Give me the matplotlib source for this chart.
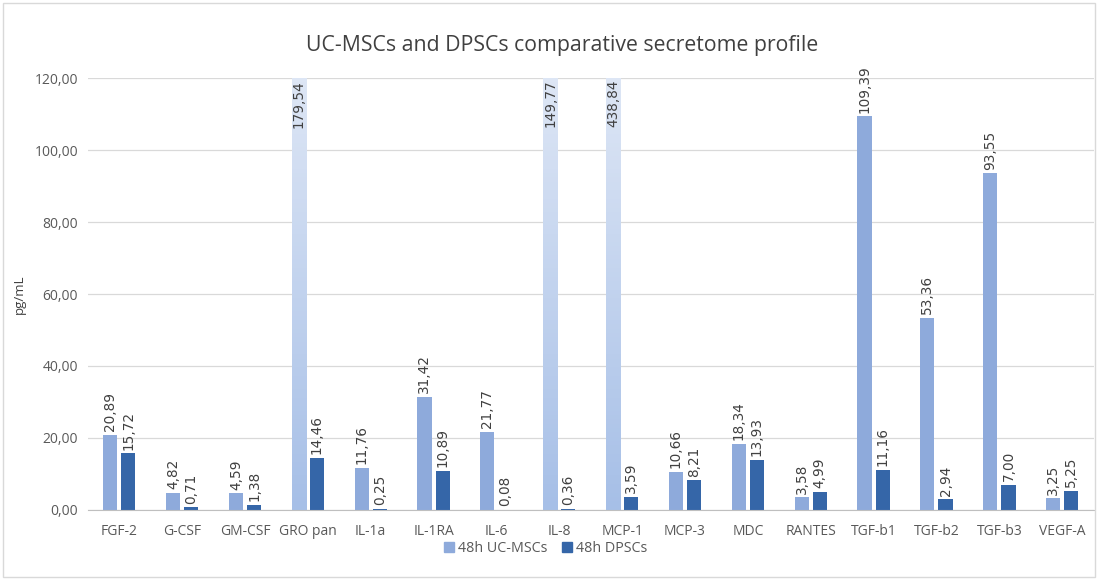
import numpy as np
import matplotlib
matplotlib.use("Agg")
import matplotlib.pyplot as plt
from matplotlib.patches import Patch, Rectangle
from matplotlib.colors import LinearSegmentedColormap

categories = ["FGF-2", "G-CSF", "GM-CSF", "GRO pan", "IL-1a", "IL-1RA", "IL-6", "IL-8",
              "MCP-1", "MCP-3", "MDC", "RANTES", "TGF-b1", "TGF-b2", "TGF-b3", "VEGF-A"]
uc_mscs = [20.89, 4.82, 4.59, 179.54, 11.76, 31.42, 21.77, 149.77,
           438.84, 10.66, 18.34, 3.58, 109.39, 53.36, 93.55, 3.25]
dpscs = [15.72, 0.71, 1.38, 14.46, 0.25, 10.89, 0.08, 0.36,
         3.59, 8.21, 13.93, 4.99, 11.16, 2.94, 7.00, 5.25]
y_ticks = [0, 20, 40, 60, 80, 100, 120]

c_uc = "#8eaadb"
c_dp = "#3566a8"
txt = "#404040"
ymax = 120

plt.rcParams['font.family'] = ['Open Sans', 'DejaVu Sans']

fig = plt.figure(figsize=(10.98, 5.8), dpi=100)
ax = fig.add_axes([0.080, 0.1207, 0.916, 0.7448])

x = np.arange(len(categories))
w = 0.225
off = 0.145

def fmt(v):
    return f"{v:.2f}".replace(".", ",")

# bars running past the axis top fade out towards white
grad = LinearSegmentedColormap.from_list("g", ["#a6bfe7", "#dde6f5"])
for i, v in enumerate(uc_mscs):
    if v > ymax:
        ax.imshow(np.linspace(0, 1, 100).reshape(-1, 1), cmap=grad, origin="lower",
                  aspect="auto", extent=(x[i] - off - w / 2, x[i] - off + w / 2, 0, ymax),
                  zorder=2)
        ax.text(x[i] - off, ymax - 0.5, fmt(v), rotation=90, ha="center", va="top",
                fontsize=9.8, color=txt, family="DejaVu Sans", zorder=4)
    else:
        ax.bar(x[i] - off, v, w, color=c_uc, zorder=2)
        ax.text(x[i] - off, v + 1, fmt(v), rotation=90, ha="center", va="bottom",
                fontsize=9.8, color=txt, family="DejaVu Sans", clip_on=False)

ax.bar(x + off, dpscs, w, color=c_dp, zorder=2)
for i, v in enumerate(dpscs):
    ax.text(x[i] + off, v + 1, fmt(v), rotation=90, ha="center", va="bottom",
            fontsize=9.8, color=txt, family="DejaVu Sans", clip_on=False)

ax.set_xlim(-0.5, len(categories) - 0.5)
ax.set_ylim(0, ymax)
ax.set_yticks(y_ticks)
ax.set_yticklabels([fmt(t) for t in y_ticks])
ax.set_xticks(x)
ax.set_xticklabels(categories)
ax.tick_params(axis="both", length=0, labelsize=10, colors="#595959")
ax.tick_params(axis="x", pad=10)
ax.tick_params(axis="y", pad=7)
ax.yaxis.grid(True, color="#d9d9d9", linewidth=0.9, zorder=0)
ax.set_axisbelow(True)
for s in ["top", "right", "left"]:
    ax.spines[s].set_visible(False)
ax.spines["bottom"].set_color("#bfbfbf")
ax.spines["bottom"].set_zorder(3)

ax.set_ylabel("pg/mL", fontsize=9.5, color="#404040", labelpad=6)
fig.text(0.512, 0.922, "UC-MSCs and DPSCs comparative secretome profile",
         ha="center", va="center", fontsize=15.3, color="#404040")

handles = [Patch(color=c_uc, label="48h UC-MSCs"), Patch(color=c_dp, label="48h DPSCs")]
fig.legend(handles=handles, loc="center", bbox_to_anchor=(0.497, 0.054), ncol=2,
           frameon=False, fontsize=10.3, handlelength=0.7, handleheight=0.7,
           handletextpad=0.3, columnspacing=1.0, labelcolor="#595959")

fig.patches.append(Rectangle((0.003, 0.005), 0.994, 0.99, transform=fig.transFigure,
                             fill=False, edgecolor="#d9d9d9", linewidth=1))

fig.savefig("out.png", dpi=100)
